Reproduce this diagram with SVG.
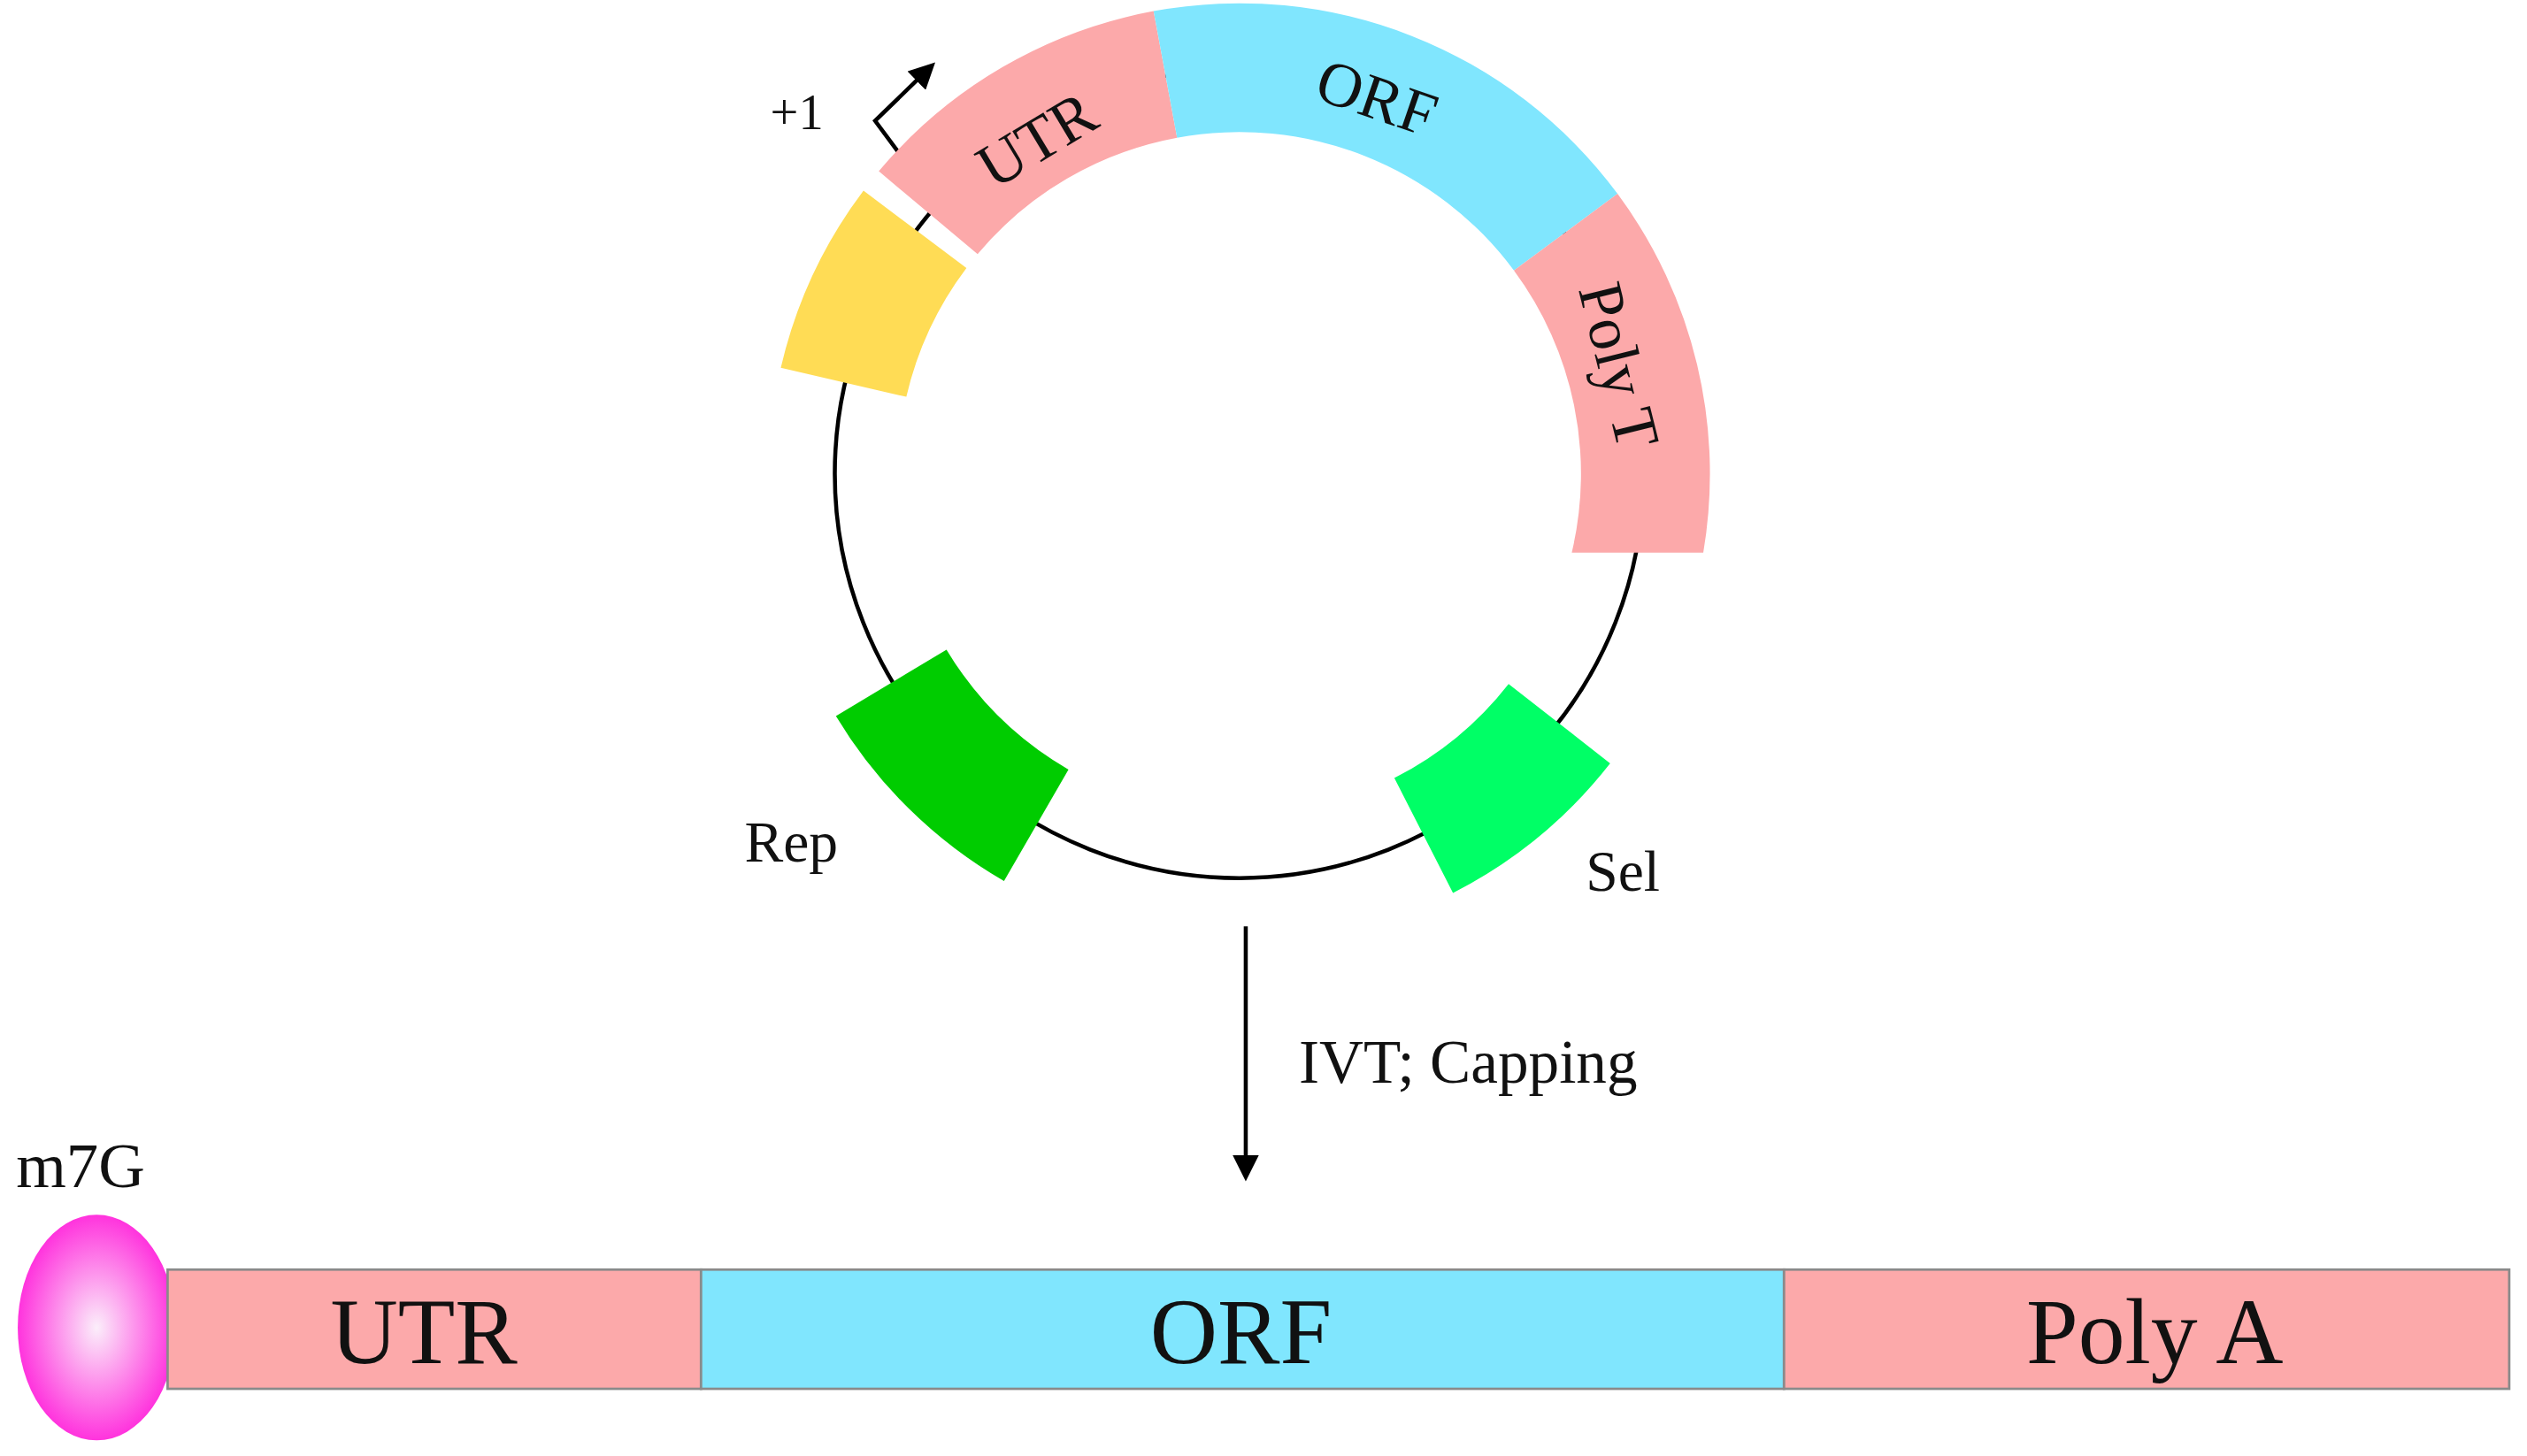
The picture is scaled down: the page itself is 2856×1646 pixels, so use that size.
<svg xmlns="http://www.w3.org/2000/svg" width="2856" height="1646" viewBox="0 0 2856 1646">
<style>
text{font-family:"Liberation Serif","Times New Roman",serif;fill:#111}
.bar{stroke:#8a8a8a;stroke-width:1.5}
</style>
<defs>
<marker id="ah" viewBox="0 0 10 10" refX="8" refY="5" markerWidth="6.5" markerHeight="6.5" orient="auto" markerUnits="strokeWidth"><path d="M0,0 L10,5 L0,10 Z" fill="#000"/></marker>
<radialGradient id="cap" cx="0.5" cy="0.5" r="0.5"><stop offset="0" stop-color="#fbeefa"/><stop offset="1" stop-color="#ff33dd"/></radialGradient>
</defs>
<rect width="2856" height="1646" fill="#fff"/>
<g transform="scale(1.8214)">
<g id="backbone"><circle cx="769" cy="294" r="251" fill="none" stroke="#000" stroke-width="2.5"/></g>
<g id="promoter"><path d="M566,106 L543,75 L578,41" fill="none" stroke="#000" stroke-width="2.5" marker-end="url(#ah)"/><text x="478" y="80" font-size="31">+1</text></g>
<g id="yellow"><path d="M484.5,228.3 A292,292 0 0 1 535.8,118.3 L599.7,166.4 A212,212 0 0 0 562.4,246.3 Z" fill="#ffdc55"/></g>
<g id="utr-arc"><path d="M545.3,106.3 A292,292 0 0 1 715.8,6.9 L730.4,85.5 A212,212 0 0 0 606.6,157.7 Z" fill="#fca9aa"/><text transform="translate(650,98) rotate(-31)" text-anchor="middle" font-size="39">UTR</text></g>
<g id="orf-arc"><path d="M715.8,6.9 A292,292 0 0 1 1003.7,120.3 L939.4,167.9 A212,212 0 0 0 730.4,85.5 Z" fill="#80e6fe"/><text transform="translate(850,73) rotate(19)" text-anchor="middle" font-size="39">ORF</text></g>
<g id="polyt-arc"><path d="M1003.7,120.3 A292,292 0 0 1 1056.9,343 L975.3,343 A212,212 0 0 0 939.4,167.9 Z" fill="#fca9aa"/><text transform="translate(992,230) rotate(76)" text-anchor="middle" font-size="39">Poly T</text></g>
<g id="rep"><path d="M623,546.9 A292,292 0 0 1 518.7,444.4 L587.3,403.2 A212,212 0 0 0 663,477.6 Z" fill="#00cc00"/><text x="462" y="535" font-size="36">Rep</text></g>
<g id="sel"><path d="M999.1,473.8 A292,292 0 0 1 901.6,554.2 L865.2,482.9 A212,212 0 0 0 936.1,424.5 Z" fill="#00ff66"/><text x="984" y="553" font-size="36">Sel</text></g>
<g id="connectors"><line x1="773" y1="575" x2="773" y2="730" stroke="#000" stroke-width="2.5" marker-end="url(#ah)"/></g>
<text x="806" y="672" font-size="38">IVT; Capping</text>
<g id="m7g"><text x="10" y="737" font-size="40">m7G</text><ellipse cx="60" cy="824" rx="49" ry="70" fill="url(#cap)"/></g>
<g id="mrna-utr"><rect class="bar" x="104" y="788" width="331" height="74" fill="#fca9aa"/><text x="263" y="846" text-anchor="middle" font-size="58">UTR</text></g>
<g id="mrna-orf"><rect class="bar" x="435" y="788" width="672" height="74" fill="#80e6fe"/><text x="770" y="846" text-anchor="middle" font-size="58">ORF</text></g>
<g id="mrna-polya"><rect class="bar" x="1107" y="788" width="450" height="74" fill="#fca9aa"/><text x="1337" y="846" text-anchor="middle" font-size="58">Poly A</text></g>
</g>
</svg>
